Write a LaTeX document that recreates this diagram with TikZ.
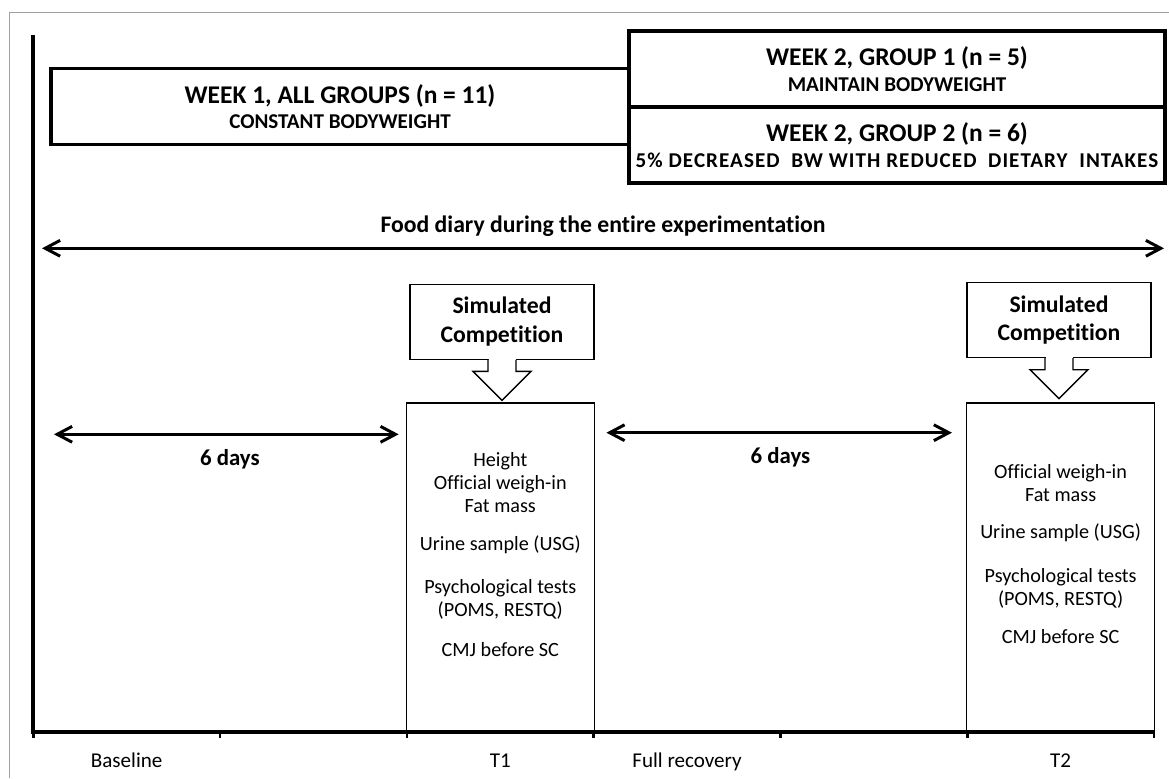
\documentclass[tikz,border=0pt]{standalone}
\usepackage{fontspec}
\setmainfont{Carlito}[Ligatures=NoCommon]
\usepackage{tikz}
\usetikzlibrary{arrows.meta,positioning}
\definecolor{framegray}{RGB}{160,160,160}

\begin{document}
\begin{tikzpicture}[x=0.02cm,y=-0.02cm,
  weekbox/.style={draw,line width=2pt,minimum height=1.52cm,inner sep=0pt,align=center,font=\fontsize{14.5}{14.5}\selectfont\bfseries},
  simbox/.style={draw,line width=0.75pt,minimum width=3.68cm,minimum height=1.5cm,inner sep=0pt,align=center,font=\fontsize{13.5}{16.4}\selectfont\bfseries},
  timebox/.style={draw,line width=0.75pt,minimum width=3.76cm,minimum height=6.58cm,inner sep=0pt},
  listtext/.style={align=center,anchor=north,inner sep=0pt,font=\fontsize{11.5}{13}\selectfont},
  daytext/.style={font=\fontsize{13}{15}\selectfont\bfseries},
  axistext/.style={anchor=base,font=\fontsize{12}{14}\selectfont},
  spanarrow/.style={<->,>={Straight Barb[length=8.5pt,width=9pt]},line width=1.7pt},
  axisline/.style={line width=2.2pt},
  tickmark/.style={line width=1.5pt}]

\useasboundingbox (0,0) rectangle (1169,778);
\draw[framegray,line width=0.75pt] (9.3,778) -- (9.3,12.3) -- (1169,12.3);

\node[weekbox,minimum width=11.56cm] (week1) at (340,106.5) {WEEK 1, ALL GROUPS (n = 11)\\{\fontsize{12}{14.5}\selectfont CONSTANT BODYWEIGHT}};
\node[weekbox,minimum width=10.72cm] (group1) at (897,69) {WEEK 2, GROUP 1 (n = 5)\\{\fontsize{12}{14.5}\selectfont MAINTAIN BODYWEIGHT}};
\node[weekbox,minimum width=10.72cm] (group2) at (897,145) {WEEK 2, GROUP 2 (n = 6)\\{\fontsize{12}{14.5}\selectfont\addfontfeature{LetterSpace=5}5\% DECREASED\ \ BW WITH REDUCED\ \ DIETARY\ \ INTAKES}};

\coordinate (diaryleft) at (42,248.3);
\coordinate (diaryright) at (1164,248.3);
\draw[spanarrow] (diaryleft) -- (diaryright) node[midway,yshift=0.44cm,font=\fontsize{13.5}{16}\selectfont\bfseries] (diarytext) {Food diary during the entire experimentation};

\node[simbox] (sim1) at (502,321.7) {Simulated\\Competition};
\node[simbox] (sim2) at (1059,320) {Simulated\\Competition};
\node[timebox] (t1box) at (500.3,567.5) {};
\node[timebox] (t2box) at (1060.6,567.3) {};

\foreach \s in {sim1,sim2}{
  \fill[white] ([xshift=-0.27cm,yshift=0.6pt]\s.south) rectangle ([xshift=0.27cm,yshift=-2pt]\s.south);
  \draw[line width=0.75pt,fill=white] ([xshift=-0.28cm]\s.south) -- ++(0,11.5) -- ++(-15,0) -- ++(29,29) -- ++(29,-29) -- ++(-15,0) -- ++(0,-11.5);
}

\coordinate (rest1) at (54,434.3);
\coordinate (rest2) at (780,432.7);
\draw[spanarrow,shorten >=0.14cm] (rest1) -- (rest1 -| t1box.west) node[midway,yshift=-0.5cm,daytext] (days1) {6 days};
\draw[spanarrow,shorten <=0.23cm,shorten >=0.28cm] (rest2 -| t1box.east) -- (rest2 -| t2box.west) node[midway,yshift=-0.5cm,daytext] (days2) {6 days};

\node[listtext] (t1list) at (500.3,452) {Height\\Official weigh-in\\Fat mass\\[9pt]Urine sample (USG)\\[11.5pt]Psychological tests\\(POMS, RESTQ)\\[9.5pt]CMJ before SC};
\node[listtext] (t2list) at (1060.6,464.5) {Official weigh-in\\Fat mass\\[8pt]Urine sample (USG)\\[12pt]Psychological tests\\(POMS, RESTQ)\\[8.5pt]CMJ before SC};

\coordinate (origin) at (33.3,732);
\draw[axisline] (33.3,35) -- (origin) -- (1154,732);
\foreach \x in {33.3,220.1,406.9,593.6,780.4,967.2,1154}
  \draw[tickmark] (\x,732) -- (\x,738);

\node[axistext] (baseline) at (126.7,767.5) {Baseline};
\node[axistext] (t1label) at (500.3,767.5) {T1};
\node[axistext] (recovery) at (687,767.5) {Full recovery};
\node[axistext] (t2label) at (1060.6,767.5) {T2};
\end{tikzpicture}
\end{document}
